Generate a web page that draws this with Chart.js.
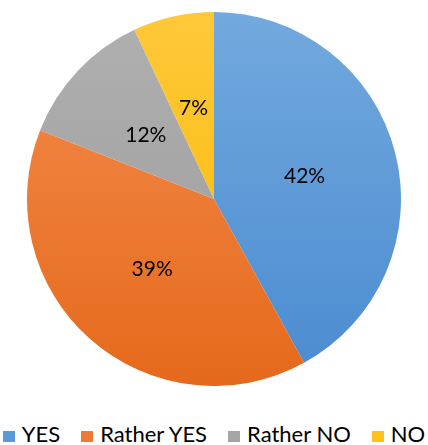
<!DOCTYPE html>
<html>
<head>
<meta charset="utf-8">
<script src="https://cdn.jsdelivr.net/npm/chart.js@4"></script>
<style>
  html, body { margin: 0; padding: 0; background: #fff; }
  #page { position: relative; width: 428px; height: 445px; overflow: hidden; }
  #wrap { position: absolute; left: 0; top: 0; width: 428px; height: 386px; }
  #legend {
    position: absolute; left: 0; top: 422px; width: 428px; height: 24px;
    display: flex; justify-content: center; align-items: center; gap: 21px;
    font: 22px/24px Lato, "Open Sans", sans-serif; color: #000; white-space: nowrap;
  }
  #legend .item { display: flex; align-items: center; }
  #legend .swatch { width: 12px; height: 11px; margin-right: 7px; position: relative; top: 2px; }
</style>
</head>
<body>
<div id="page">
  <div id="wrap"><canvas id="pie"></canvas></div>
  <div id="legend"></div>
</div>
<script>
const labels = ['YES', 'Rather YES', 'Rather NO', 'NO'];
const shares = [42, 39, 12, 7];
// light (top) and dark (bottom) stop of each slice's fill, plus the flat legend swatch
const topColors = ['#72a9de', '#f48d4d', '#b0b0b0', '#ffc839'];
const bottomColors = ['#4a8bd0', '#e5691c', '#9a9a9a', '#f7b900'];
const swatchColors = ['#5a9ad8', '#ee7a33', '#a5a5a5', '#ffc21c'];

const FONT = 'Lato, "Open Sans", sans-serif';

// vertical gradient spanning the whole pie, so every slice shades the same way
function sliceFill(ctx) {
  const chart = ctx.chart;
  const area = chart.chartArea;
  const i = ctx.dataIndex;
  if (!area) return topColors[i];
  const r = Math.min(area.right - area.left, area.bottom - area.top) / 2;
  const cy = (area.top + area.bottom) / 2;
  const g = chart.ctx.createLinearGradient(0, cy - r, 0, cy + r);
  g.addColorStop(0, topColors[i]);
  g.addColorStop(1, bottomColors[i]);
  return g;
}

// percentage labels in the middle of each slice
const sliceLabels = {
  id: 'sliceLabels',
  afterDatasetsDraw(chart) {
    const c = chart.ctx;
    const meta = chart.getDatasetMeta(0);
    c.save();
    c.font = '21px ' + FONT;
    c.fillStyle = '#000';
    c.textAlign = 'center';
    c.textBaseline = 'middle';
    meta.data.forEach((arc, i) => {
      const p = arc.tooltipPosition();
      c.fillText(shares[i] + '%', p.x, p.y);
    });
    c.restore();
  }
};

// legend row under the pie, built from the chart's own legend items
const htmlLegend = {
  id: 'htmlLegend',
  afterUpdate(chart) {
    const box = document.getElementById('legend');
    box.innerHTML = '';
    const items = chart.options.plugins.legend.labels.generateLabels(chart);
    items.forEach(item => {
      const el = document.createElement('span');
      el.className = 'item';
      const sw = document.createElement('span');
      sw.className = 'swatch';
      sw.style.background = swatchColors[item.index];
      el.appendChild(sw);
      el.appendChild(document.createTextNode(item.text));
      box.appendChild(el);
    });
  }
};

new Chart(document.getElementById('pie'), {
  type: 'pie',
  data: {
    labels,
    datasets: [{
      data: shares,
      backgroundColor: sliceFill,
      borderWidth: 0
    }]
  },
  options: {
    responsive: true,
    maintainAspectRatio: false,
    animation: false,
    layout: { padding: { top: 12 } },
    plugins: {
      tooltip: { enabled: false },
      legend: { display: false }
    }
  },
  plugins: [sliceLabels, htmlLegend]
});
</script>
</body>
</html>
